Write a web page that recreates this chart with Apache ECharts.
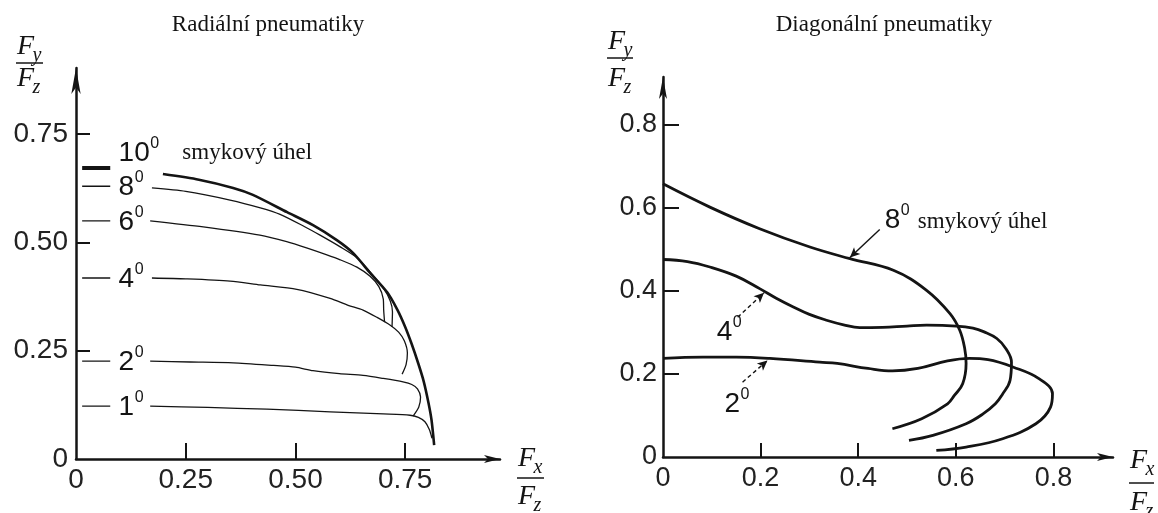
<!DOCTYPE html>
<html>
<head>
<meta charset="utf-8">
<script src="https://cdn.jsdelivr.net/npm/echarts@6/dist/echarts.min.js"></script>
<style>
  html, body { margin: 0; padding: 0; background: #fff; }
  #chart { width: 1158px; height: 513px; }
</style>
</head>
<body>
<div id="chart"></div>
<script>
// ---- Axis ticks and their printed labels ----
const radialXTicks = [0, 0.25, 0.5, 0.75];
const radialXTickLabels = ['0', '0.25', '0.50', '0.75'];
const radialYTicks = [0, 0.25, 0.5, 0.75];
const radialYTickLabels = ['0', '0.25', '0.50', '0.75'];
const diagonalXTicks = [0, 0.2, 0.4, 0.6, 0.8];
const diagonalXTickLabels = ['0', '0.2', '0.4', '0.6', '0.8'];
const diagonalYTicks = [0, 0.2, 0.4, 0.6, 0.8];
const diagonalYTickLabels = ['0', '0.2', '0.4', '0.6', '0.8'];

// ---- Radial tyres: Fy/Fz against Fx/Fz for each slip angle ----
const radialAngles = ['10', '8', '6', '4', '2', '1'];
// lateral level of each curve near Fx/Fz = 0 (short lead-in dash before the label)
const radialStartLevel = [0.672, 0.630, 0.550, 0.418, 0.226, 0.122];
const radialLeadX = [0.014, 0.078];
const radial10 = [[0.198,0.658],[0.28,0.645],[0.358,0.626],[0.403,0.610],[0.481,0.570],[0.540,0.540],[0.595,0.505],[0.631,0.476],[0.670,0.430],[0.709,0.385],[0.732,0.345],[0.750,0.305],[0.765,0.265],[0.780,0.220],[0.792,0.180],[0.803,0.130],[0.810,0.090],[0.816,0.032]];
const radial8 = [[0.173,0.626],[0.25,0.618],[0.351,0.598],[0.42,0.580],[0.465,0.565],[0.52,0.537],[0.556,0.517],[0.602,0.490],[0.64,0.465],[0.67,0.432],[0.70,0.395],[0.716,0.365],[0.721,0.340],[0.720,0.305]];
const radial6 = [[0.169,0.550],[0.29,0.536],[0.419,0.517],[0.48,0.502],[0.527,0.487],[0.57,0.472],[0.602,0.460],[0.64,0.443],[0.67,0.422],[0.69,0.398],[0.70,0.370],[0.701,0.344],[0.703,0.316]];
const radial4 = [[0.173,0.418],[0.25,0.416],[0.351,0.411],[0.42,0.402],[0.503,0.392],[0.579,0.371],[0.62,0.355],[0.654,0.344],[0.686,0.327],[0.716,0.309],[0.735,0.293],[0.748,0.273],[0.755,0.245],[0.752,0.218],[0.743,0.196]];
const radial2 = [[0.169,0.226],[0.26,0.224],[0.358,0.222],[0.45,0.216],[0.50,0.212],[0.54,0.204],[0.60,0.197],[0.654,0.193],[0.70,0.186],[0.745,0.178],[0.765,0.172],[0.778,0.162],[0.785,0.143],[0.781,0.120],[0.768,0.099]];
const radial1 = [[0.169,0.122],[0.30,0.119],[0.435,0.115],[0.579,0.109],[0.70,0.104],[0.761,0.101],[0.780,0.096],[0.795,0.086],[0.805,0.068],[0.811,0.048]];
const radialCurves = [radial10, radial8, radial6, radial4, radial2, radial1];

// ---- Bias-ply (diagonal) tyres ----
const diagonalAngles = ['8', '4', '2'];
const diagonal8 = [[0,0.657],[0.096,0.601],[0.198,0.549],[0.301,0.505],[0.383,0.477],[0.472,0.449],[0.540,0.401],[0.588,0.345],[0.608,0.305],[0.618,0.262],[0.621,0.225],[0.614,0.176],[0.597,0.148],[0.583,0.128],[0.53,0.092],[0.47,0.068]];
const diagonal4 = [[0,0.475],[0.05,0.470],[0.096,0.457],[0.15,0.435],[0.198,0.405],[0.232,0.382],[0.267,0.361],[0.30,0.343],[0.335,0.329],[0.37,0.318],[0.403,0.311],[0.45,0.312],[0.50,0.315],[0.54,0.317],[0.601,0.315],[0.635,0.310],[0.658,0.301],[0.684,0.285],[0.703,0.260],[0.714,0.228],[0.711,0.184],[0.695,0.150],[0.681,0.128],[0.655,0.103],[0.621,0.080],[0.553,0.052],[0.504,0.040]];
const diagonal2 = [[0,0.237],[0.082,0.240],[0.150,0.240],[0.219,0.237],[0.321,0.228],[0.357,0.225],[0.42,0.213],[0.47,0.207],[0.522,0.213],[0.583,0.231],[0.628,0.237],[0.666,0.234],[0.718,0.216],[0.771,0.188],[0.798,0.152],[0.794,0.120],[0.764,0.080],[0.696,0.044],[0.621,0.024],[0.560,0.016]];
const diagonalCurves = [diagonal8, diagonal4, diagonal2];
// pointer arrows from each angle label to its curve: [tail, tip]
const diagonal8Pointer = [[0.444,0.547],[0.383,0.480]];
const diagonal4Pointer = [[0.153,0.336],[0.207,0.395]];
const diagonal2Pointer = [[0.163,0.180],[0.214,0.232]];
const diagonalPointers = [diagonal8Pointer, diagonal4Pointer, diagonal2Pointer];

const INK = '#141414';
const SANS = '"Liberation Sans", Arial, sans-serif';
const SERIF = '"Liberation Serif", "Times New Roman", serif';

function labelFor(ticks, labels) {
  return function (v) {
    const i = ticks.findIndex(t => Math.abs(t - v) < 1e-6);
    return i < 0 ? '' : labels[i];
  };
}

function valueAxis(opt) {
  return {
    type: 'value',
    gridIndex: opt.grid,
    min: 0,
    max: opt.max,
    splitLine: { show: false },
    axisLine: {
      show: true,
      onZero: false,
      symbol: ['none', 'arrow'],
      symbolSize: opt.arrow,
      lineStyle: { color: INK, width: 2.5 }
    },
    axisTick: {
      show: true,
      inside: true,
      length: opt.tickLen,
      customValues: opt.ticks.filter(v => v > 0),
      lineStyle: { color: INK, width: 2 }
    },
    axisLabel: {
      show: true,
      customValues: opt.ticks,
      formatter: labelFor(opt.ticks, opt.labels),
      color: '#222',
      fontFamily: SANS,
      fontSize: opt.fontSize,
      margin: opt.margin
    }
  };
}

const chart = echarts.init(document.getElementById('chart'), null, { renderer: 'canvas' });

const series = [];
radialCurves.forEach((pts, i) => {
  const heavy = i === 0;
  series.push({
    type: 'line', xAxisIndex: 0, yAxisIndex: 0, silent: true,
    data: [[radialLeadX[0], radialStartLevel[i]], [radialLeadX[1], radialStartLevel[i]]],
    showSymbol: false,
    lineStyle: { color: INK, width: heavy ? 4 : 1.4 }
  });
  series.push({
    type: 'line', xAxisIndex: 0, yAxisIndex: 0, silent: true,
    data: pts, showSymbol: false, smooth: 0.25,
    lineStyle: { color: INK, width: heavy ? 2.6 : 1.3 }
  });
});
diagonalCurves.forEach((pts, i) => {
  series.push({
    type: 'line', xAxisIndex: 1, yAxisIndex: 1, silent: true,
    data: pts, showSymbol: false, smooth: 0.4,
    lineStyle: { color: INK, width: 2.8 },
    markLine: {
      silent: true,
      animation: false,
      symbol: ['none', 'arrow'],
      symbolSize: [7, 10],
      label: { show: false },
      lineStyle: { color: INK, width: 1.4, type: i === 0 ? 'solid' : [4, 3] },
      data: [[{ coord: diagonalPointers[i][0] }, { coord: diagonalPointers[i][1] }]]
    }
  });
});

chart.setOption({
  animation: false,
  backgroundColor: '#fff',
  grid: [
    { left: 76, top: 68, width: 424, height: 391 },
    { left: 663, top: 77, width: 450, height: 380 }
  ],
  xAxis: [
    valueAxis({ grid: 0, max: 0.966, ticks: radialXTicks, labels: radialXTickLabels, arrow: [6, 16], tickLen: 16, fontSize: 28, margin: 7 }),
    valueAxis({ grid: 1, max: 0.922, ticks: diagonalXTicks, labels: diagonalXTickLabels, arrow: [6, 16], tickLen: 14, fontSize: 27, margin: 8 })
  ],
  yAxis: [
    valueAxis({ grid: 0, max: 0.903, ticks: radialYTicks, labels: radialYTickLabels, arrow: [7, 26], tickLen: 14, fontSize: 28, margin: 8 }),
    valueAxis({ grid: 1, max: 0.914, ticks: diagonalYTicks, labels: diagonalYTickLabels, arrow: [6, 22], tickLen: 16, fontSize: 27, margin: 6 })
  ],
  series: series
});

// ---- Text annotations ----
const g = [];
function text(x, y, str, size, family, extra) {
  g.push({
    type: 'text', silent: true, x: x, y: y,
    style: Object.assign({
      text: str, fill: INK, font: size + 'px ' + family,
      textAlign: 'left', textVerticalAlign: 'middle'
    }, extra || {})
  });
}
function degree(x, y, digits, size, supSize) {
  text(x, y, digits, size, SANS);
  const w = digits.length * 0.556 * size;
  text(x + w + 0.5, y - size * 0.34, '0', supSize, SANS);
}
function fraction(x, yTop, yLine, yBot, top, bottom, size, width) {
  const subSize = Math.round(size * 0.72);
  const it = s => 'italic ' + s + 'px ' + SERIF;
  text(x, yTop, 'F', size, SERIF, { font: it(size) });
  text(x + size * 0.55, yTop + size * 0.3, top, subSize, SERIF, { font: it(subSize) });
  g.push({ type: 'line', silent: true, shape: { x1: x - 1, y1: yLine, x2: x - 1 + width, y2: yLine }, style: { stroke: INK, lineWidth: 1.5 } });
  text(x, yBot, 'F', size, SERIF, { font: it(size) });
  text(x + size * 0.55, yBot + size * 0.3, bottom, subSize, SERIF, { font: it(subSize) });
}

// titles
text(268, 25, 'Radiální pneumatiky', 23, SERIF, { textAlign: 'center' });
text(884, 25, 'Diagonální pneumatiky', 23, SERIF, { textAlign: 'center' });

// slip-angle labels, radial tyres (placed beside each lead-in dash)
radialAngles.forEach((a, i) => {
  const p = chart.convertToPixel({ gridIndex: 0 }, [0.097, radialStartLevel[i]]);
  const dy = i === 0 ? -15 : 1;
  degree(p[0], p[1] + dy, a, 28, 16);
});
{
  const p = chart.convertToPixel({ gridIndex: 0 }, [0.39, radialStartLevel[0]]);
  text(p[0], p[1] - 15, 'smykový úhel', 23, SERIF, { textAlign: 'center' });
}

// slip-angle labels, diagonal tyres (at the tail of each pointer)
const diagOffsets = [[5, -9], [-21, 15], [-18, 22]];
diagonalAngles.forEach((a, i) => {
  const p = chart.convertToPixel({ gridIndex: 1 }, diagonalPointers[i][0]);
  degree(p[0] + diagOffsets[i][0], p[1] + diagOffsets[i][1], a, 28, 16);
  if (i === 0) text(p[0] + 38, p[1] - 8, 'smykový úhel', 23, SERIF);
});

// axis quantity labels Fy/Fz and Fx/Fz
fraction(17, 47, 63, 79, 'y', 'z', 28, 27);
fraction(608, 42, 58, 79, 'y', 'z', 28, 26);
fraction(518, 459, 478, 497, 'x', 'z', 28, 27);
fraction(1130, 461, 483, 503, 'x', 'z', 28, 25);

chart.setOption({ graphic: g });
</script>
</body>
</html>
